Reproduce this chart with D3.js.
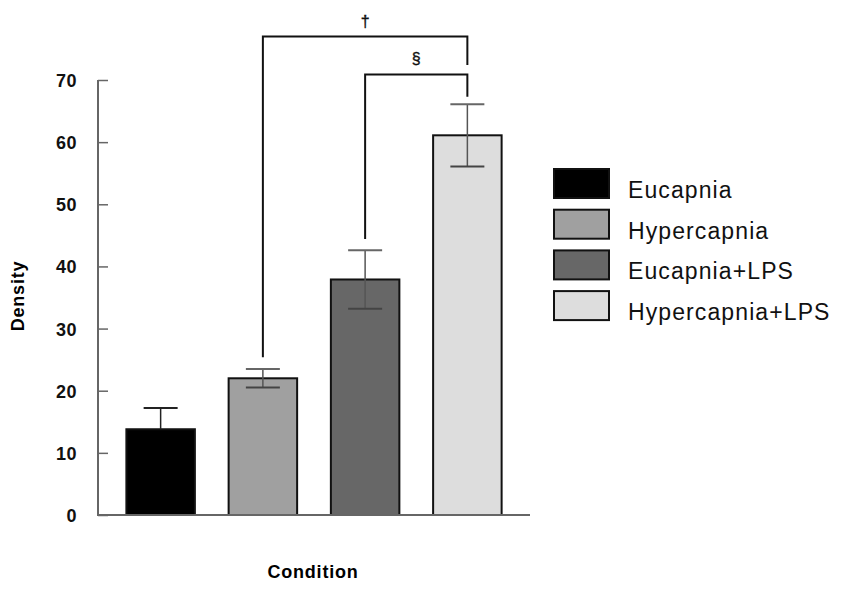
<!DOCTYPE html>
<html>
<head>
<meta charset="utf-8">
<script src="https://cdn.jsdelivr.net/npm/d3@7"></script>
<style>
	body { margin: 0; background: #fff; }
	text { font-family: Arial, "Liberation Sans", sans-serif; }
</style>
</head>
<body>
<div id="chart"></div>
<script>

// Values
const conditions = ['Eucapnia', 'Hypercapnia', 'Eucapnia+LPS', 'Hypercapnia+LPS'];
const densities = [13.8, 22.0, 37.9, 61.1];
const errors = [3.4, 1.5, 4.7, 5.0];
const barColors = ['#000000', '#a0a0a0', '#676767', '#dddddd'];
const yTicks = [0, 10, 20, 30, 40, 50, 60, 70];

// significance brackets: [from index, to index, bracket level, left leg end, right leg end, symbol]
const brackets = [
	[1, 3, 77.0, 25.4, 72.4, '\u2020'],
	[2, 3, 70.9, 44.4, 67.3, '\u00a7']
];

const width = 841, height = 590;

const svg = d3.select('#chart').append('svg')
	.attr('width', width)
	.attr('height', height);

const x = d3.scaleBand()
	.domain(conditions)
	.range([109, 519])
	.paddingInner(0.33)
	.paddingOuter(0.17);

const y = d3.scaleLinear()
	.domain([0, 70])
	.range([515, 80]);

// bars
svg.append('g')
	.selectAll('rect')
	.data(conditions)
	.join('rect')
		.attr('x', d => x(d))
		.attr('y', (d, i) => y(densities[i]))
		.attr('width', x.bandwidth())
		.attr('height', (d, i) => y(0) - y(densities[i]))
		.style('fill', (d, i) => barColors[i])
		.style('stroke', '#111')
		.style('stroke-width', 2);

// error bars
const errG = svg.append('g');
conditions.forEach((c, i) => {
	const cx = x(c) + x.bandwidth() / 2;
	const lo = y(densities[i] - errors[i]), hi = y(densities[i] + errors[i]);
	// first bar only shows the upper whisker
	const bottom = i == 0 ? y(densities[i]) : lo;
	errG.append('line')
		.attr('x1', cx).attr('x2', cx)
		.attr('y1', hi).attr('y2', bottom)
		.style('stroke', i == 0 ? '#222' : '#555')
		.style('stroke-width', 1.5);
	errG.append('line')
		.attr('x1', cx - 17).attr('x2', cx + 17)
		.attr('y1', hi).attr('y2', hi)
		.style('stroke', i == 0 ? '#222' : '#666')
		.style('stroke-width', 2);
	if (i > 0) {
		errG.append('line')
			.attr('x1', cx - 17).attr('x2', cx + 17)
			.attr('y1', lo).attr('y2', lo)
			.style('stroke', '#444')
			.style('stroke-width', 2);
	}
});

// axes
const yAxis = svg.append('g')
	.attr('transform', 'translate(98,0)')
	.call(d3.axisRight(y).tickValues(yTicks).tickSize(10).tickFormat(d3.format('d')));
yAxis.select('.domain').remove();
yAxis.selectAll('.tick line').style('stroke', '#666').style('stroke-width', 1.5);
yAxis.selectAll('.tick text')
	.attr('x', -21)
	.attr('text-anchor', 'end')
	.attr('dy', '0.36em')
	.style('font-size', '18px')
	.style('letter-spacing', '0.5px')
	.style('font-weight', 'bold')
	.style('fill', '#111');

svg.append('line')
	.attr('x1', 98).attr('x2', 98)
	.attr('y1', y(70)).attr('y2', y(0))
	.style('stroke', '#666').style('stroke-width', 2);
svg.append('line')
	.attr('x1', 97).attr('x2', 530)
	.attr('y1', y(0)).attr('y2', y(0))
	.style('stroke', '#666').style('stroke-width', 2);

// axis titles
svg.append('text')
	.attr('transform', 'translate(24,296) rotate(-90)')
	.attr('text-anchor', 'middle')
	.style('font-size', '18px')
	.style('letter-spacing', '0.8px')
	.style('font-weight', 'bold')
	.text('Density');

svg.append('text')
	.attr('x', 313)
	.attr('y', 578)
	.attr('text-anchor', 'middle')
	.style('font-size', '18px')
	.style('letter-spacing', '0.8px')
	.style('font-weight', 'bold')
	.text('Condition');

// significance brackets
const brG = svg.append('g');
brackets.forEach(b => {
	const x1 = x(conditions[b[0]]) + x.bandwidth() / 2;
	const x2 = x(conditions[b[1]]) + x.bandwidth() / 2;
	brG.append('path')
		.attr('d', `M${x1},${y(b[3])}V${y(b[2])}H${x2}V${y(b[4])}`)
		.style('fill', 'none')
		.style('stroke', '#111')
		.style('stroke-width', 2);
	brG.append('text')
		.attr('x', (x1 + x2) / 2)
		.attr('y', y(b[2]) - 10)
		.attr('text-anchor', 'middle')
		.style('font-size', '16px')
		.style('fill', '#111')
		.style('stroke', '#111')
		.style('stroke-width', 0.4)
		.text(b[5]);
});

// legend
const legend = svg.append('g')
	.attr('transform', 'translate(554,169)');
conditions.forEach((c, i) => {
	const row = legend.append('g').attr('transform', `translate(0,${i * 40.7})`);
	row.append('rect')
		.attr('width', 55)
		.attr('height', 29)
		.style('fill', barColors[i])
		.style('stroke', '#111')
		.style('stroke-width', 2);
	row.append('text')
		.attr('x', 74)
		.attr('y', 29)
		.style('font-size', '23px')
		.style('letter-spacing', '1.1px')
		.style('fill', '#111')
		.text(c);
});

</script>
</body>
</html>
